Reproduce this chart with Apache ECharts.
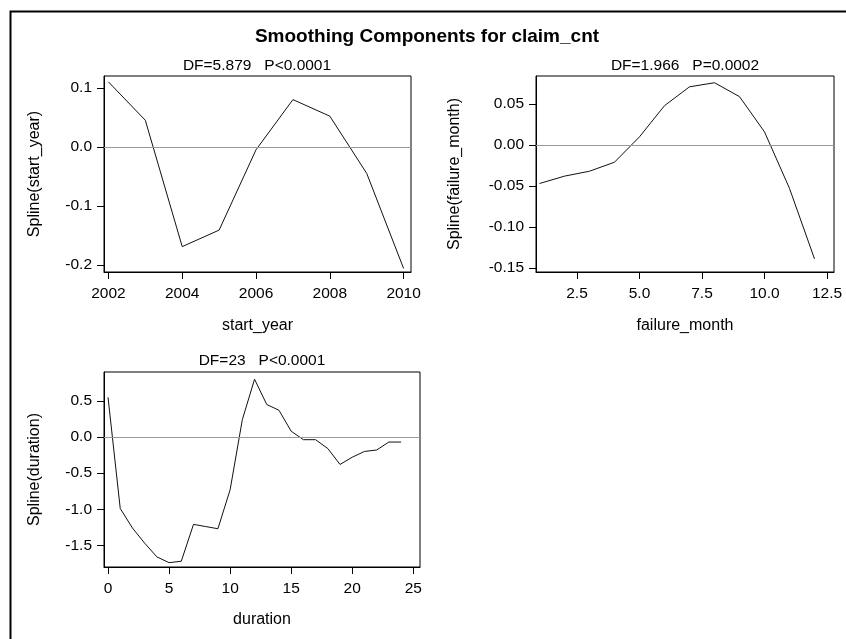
<html>
<head>
    <meta charset="utf-8">
    <script src="https://cdn.jsdelivr.net/npm/echarts@6/dist/echarts.min.js"></script>
</head>
<body style="margin:0;background:#fff">
<div id="main" style="width: 846px;height:639px;"></div>
</body>
<script type="text/javascript">
    // panel 1: start_year
    var years = [2002, 2003, 2004, 2005, 2006, 2007, 2008, 2009, 2010];
    var yearSpline = [0.110, 0.045, -0.169, -0.141, -0.005, 0.080, 0.052, -0.045, -0.206];
    var yearTicksX = [2002, 2004, 2006, 2008, 2010];
    var yearTicksY = [-0.2, -0.1, 0.0, 0.1];

    // panel 2: failure_month
    var months = [1, 2, 3, 4, 5, 6, 7, 8, 9, 10, 11, 12];
    var monthSpline = [-0.047, -0.038, -0.032, -0.021, 0.010, 0.048, 0.071, 0.076, 0.059, 0.016, -0.053, -0.139];
    var monthTicksX = [2.5, 5.0, 7.5, 10.0, 12.5];
    var monthTicksY = [-0.15, -0.10, -0.05, 0.00, 0.05];

    // panel 3: duration
    var durations = [0, 1, 2, 3, 4, 5, 6, 7, 8, 9, 10, 11, 12, 13, 14, 15, 16, 17, 18, 19, 20, 21, 22, 23, 24];
    var durationSpline = [0.55, -0.99, -1.26, -1.47, -1.66, -1.74, -1.72, -1.21, -1.24, -1.27, -0.73, 0.24, 0.80,
        0.45, 0.37, 0.08, -0.037, -0.037, -0.16, -0.38, -0.28, -0.20, -0.18, -0.07, -0.07];
    var durationTicksX = [0, 5, 10, 15, 20, 25];
    var durationTicksY = [-1.5, -1.0, -0.5, 0.0, 0.5];

    var mainTitle = 'Smoothing Components for claim_cnt';
    var subTitles = ['DF=5.879   P<0.0001', 'DF=1.966   P=0.0002', 'DF=23   P<0.0001'];

    function pairs(xs, ys) {
        return xs.map(function (x, i) { return [x, ys[i]]; });
    }

    var font = 'Arial, "Liberation Sans", sans-serif';

    function axis(idx, name, min, max, ticks, dec, gap, vertical) {
        return {
            type: 'value', gridIndex: idx, min: min, max: max,
            name: name, nameLocation: 'middle', nameGap: gap, nameRotate: vertical ? 90 : 0,
            nameTextStyle: {color: '#000', fontSize: 16, fontFamily: font},
            axisLine: {show: true, onZero: false, lineStyle: {color: '#000', width: 1}},
            axisTick: {show: true, inside: false, length: 7, customValues: ticks, lineStyle: {color: '#000'}},
            axisLabel: {customValues: ticks, margin: vertical ? 12 : 14, color: '#000', fontSize: 15.5, fontFamily: font,
                formatter: function (v) { return v.toFixed(dec); }},
            splitLine: {show: false}
        };
    }
    function line(idx, xs, ys) {
        return {
            type: 'line', xAxisIndex: idx, yAxisIndex: idx,
            data: pairs(xs, ys), showSymbol: false, smooth: false,
            lineStyle: {color: '#111', width: 1},
            markLine: {
                silent: true, symbol: 'none', label: {show: false},
                lineStyle: {color: '#999', type: 'solid', width: 1.2},
                data: [{yAxis: 0}]
            }
        };
    }

    var myChart = echarts.init(document.getElementById('main'));
    var option = {
        animation: false,
        backgroundColor: '#fff',
        title: [
            {text: mainTitle, left: 427, top: 27, textAlign: 'center', padding: 0,
                textStyle: {fontSize: 19, fontWeight: 'bold', color: '#000', fontFamily: font}},
            {text: subTitles[0], left: 257, top: 58, textAlign: 'center', padding: 0,
                textStyle: {fontSize: 15.5, fontWeight: 'normal', color: '#000', fontFamily: font}},
            {text: subTitles[1], left: 685, top: 58, textAlign: 'center', padding: 0,
                textStyle: {fontSize: 15.5, fontWeight: 'normal', color: '#000', fontFamily: font}},
            {text: subTitles[2], left: 262, top: 353, textAlign: 'center', padding: 0,
                textStyle: {fontSize: 15.5, fontWeight: 'normal', color: '#000', fontFamily: font}}
        ],
        graphic: [{
            type: 'rect', left: 8, top: 9, silent: true,
            shape: {x: 0, y: 0, width: 900, height: 700},
            style: {fill: 'none', stroke: '#000', lineWidth: 2}
        }],
        grid: [
            {left: 104, top: 76, width: 307, height: 196, show: true, borderColor: '#000', borderWidth: 1, backgroundColor: 'transparent'},
            {left: 536, top: 76, width: 298, height: 196, show: true, borderColor: '#000', borderWidth: 1, backgroundColor: 'transparent'},
            {left: 104, top: 372, width: 316, height: 195, show: true, borderColor: '#000', borderWidth: 1, backgroundColor: 'transparent'}
        ],
        xAxis: [
            axis(0, 'start_year', 2001.88, 2010.2, yearTicksX, 0, 46, false),
            axis(1, 'failure_month', 0.86, 12.78, monthTicksX, 1, 46, false),
            axis(2, 'duration', -0.33, 25.55, durationTicksX, 0, 45, false)
        ],
        yAxis: [
            axis(0, 'Spline(start_year)', -0.212, 0.12, yearTicksY, 1, 61, true),
            axis(1, 'Spline(failure_month)', -0.155, 0.0842, monthTicksY, 2, 73, true),
            axis(2, 'Spline(duration)', -1.80, 0.90, durationTicksY, 1, 61, true)
        ],
        series: [
            line(0, years, yearSpline),
            line(1, months, monthSpline),
            line(2, durations, durationSpline)
        ]
    };
    myChart.setOption(option);
</script>
</html>
